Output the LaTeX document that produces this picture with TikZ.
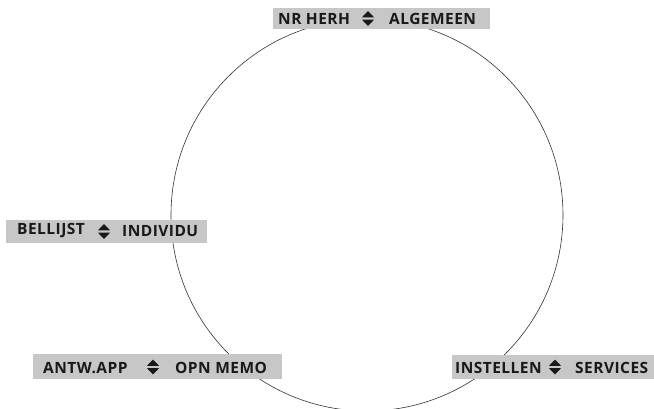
\documentclass[tikz,border=0pt]{standalone}
\usepackage{fontspec}
\setmainfont{Open Sans}
\newfontfamily\keyfont[LetterSpace=3]{Open Sans}
\tikzset{
  keybar/.style={fill=black!22, inner sep=0pt},
  keytext/.style={font=\keyfont\bfseries\fontsize{15.5}{16}\selectfont, text=black!90, anchor=west, inner sep=0pt},
  updown/.pic={
    \fill[black!90] (-6,-1.2) -- (6,-1.2) -- (0,-7.5) -- cycle;
    \fill[black!90] (-6,1.2) -- (6,1.2) -- (0,7.5) -- cycle;
  }
}
\begin{document}
\begin{tikzpicture}[x=1pt, y=-1pt]
  \useasboundingbox (0, 0) rectangle (654, 409);

  % the ring
  \draw[black!80, line width=0.6pt] (367, 215) circle (196);

  % top key
  \node[keybar, minimum width=217pt, minimum height=21pt] (topbar) at (381.5, 18.5) {};
  \node[keytext] (nrherh) at (278, 18.7) {NR HERH};
  \pic at (368, 18.5) {updown};
  \node[keytext] (algemeen) at (389, 18.7) {ALGEMEEN};

  % left key
  \node[keybar, minimum width=201pt, minimum height=23pt] (leftbar) at (106.5, 231.5) {};
  \node[keytext] (bellijst) at (17, 231) {BELLIJST};
  \pic at (104, 231.5) {updown};
  \node[keytext] (individu) at (122, 231) {INDIVIDU};

  % bottom left key
  \node[keybar, minimum width=249pt, minimum height=25pt] (lowleftbar) at (157.5, 366.5) {};
  \node[keytext] (antwapp) at (43, 368) {ANTW.APP};
  \pic at (153, 367) {updown};
  \node[keytext] (opnmemo) at (175, 368) {OPN MEMO};

  % bottom right key
  \node[keybar, minimum width=202pt, minimum height=24pt] (lowrightbar) at (553, 367) {};
  \node[keytext] (instellen) at (455, 367.7) {INSTELLEN};
  \pic at (555, 367) {updown};
  \node[keytext] (services) at (575, 367.7) {SERVICES};
\end{tikzpicture}
\end{document}
